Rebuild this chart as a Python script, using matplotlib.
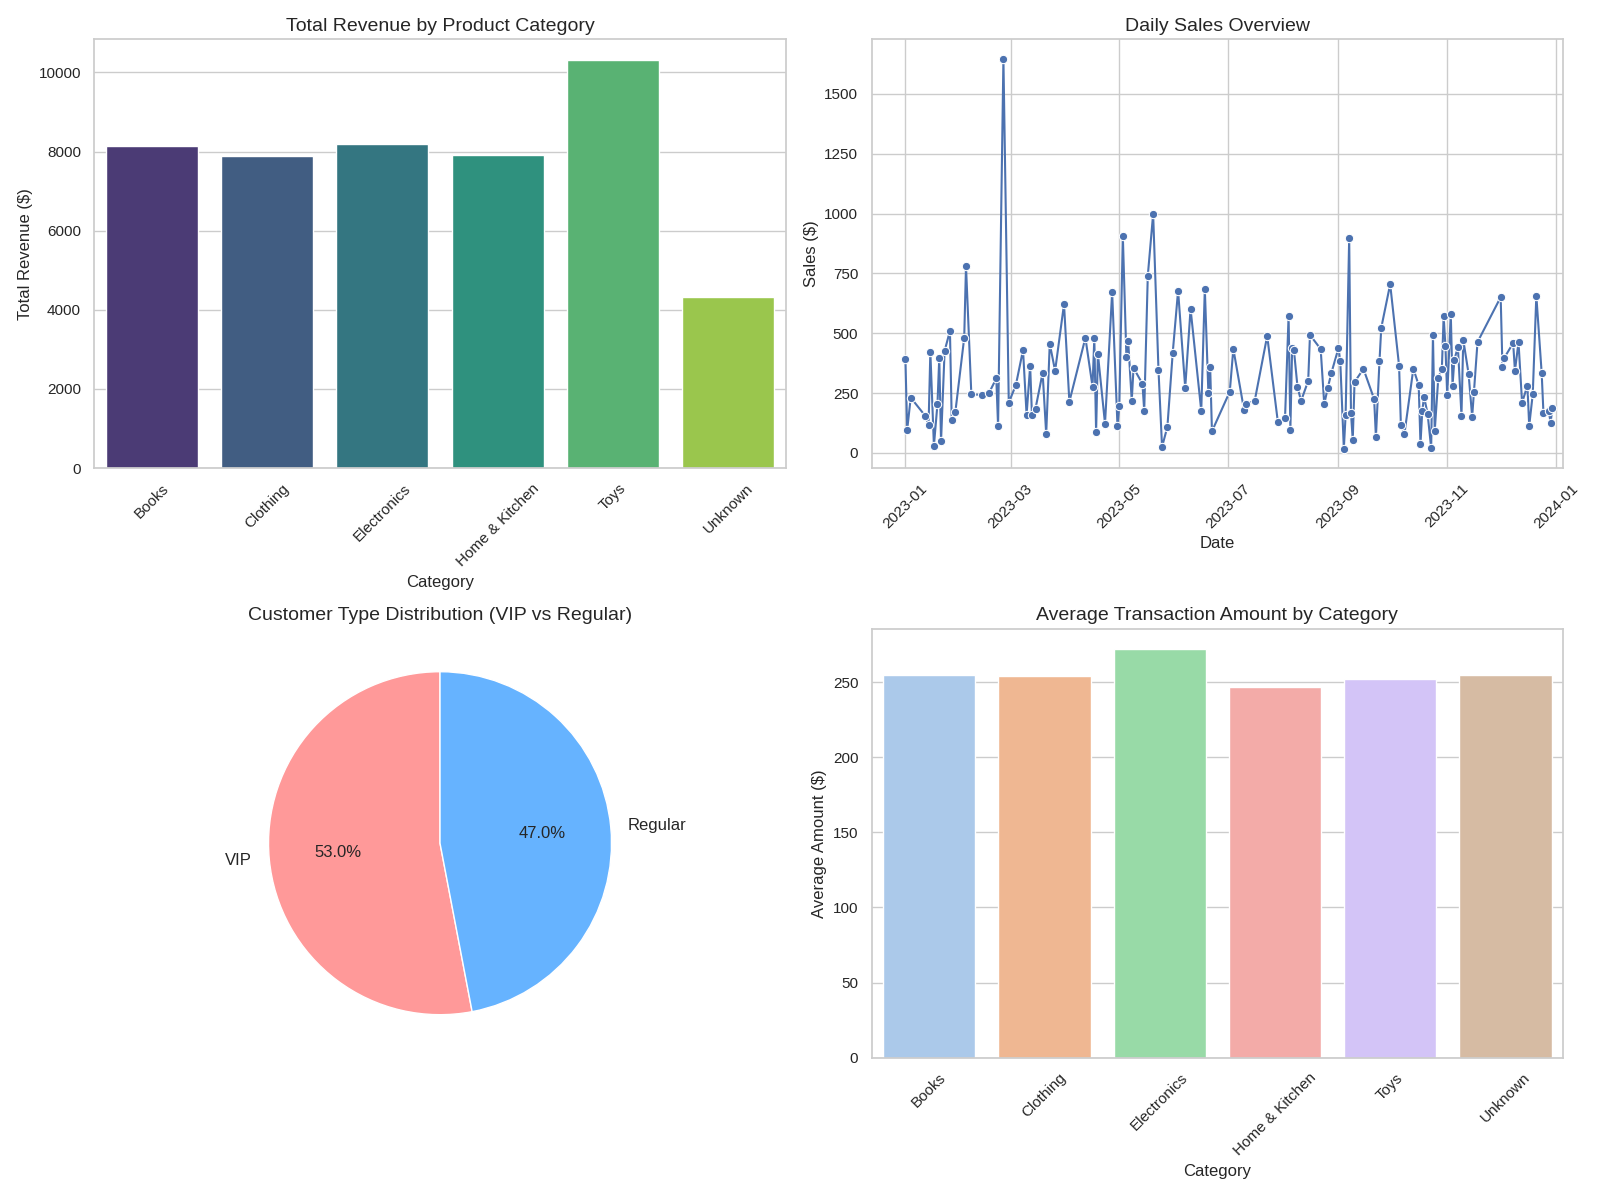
import numpy as np
import pandas as pd
import matplotlib
matplotlib.use('Agg')
import matplotlib.pyplot as plt  # noqa
import seaborn as sns  # noqa
from matplotlib.ticker import MultipleLocator  # noqa

categories = ['Books', 'Clothing', 'Electronics', 'Home & Kitchen', 'Toys', 'Unknown']
revenue = [8150, 7880, 8180, 7900, 10320, 4330]
avg_amount = [255, 254, 272, 247, 252, 255]

customer_types = ['VIP', 'Regular']
customer_share = [53.0, 47.0]

# days since 2023-01-01 and daily sales
sale_days = [0, 1, 3, 11, 13, 14, 16, 18, 19, 20, 22, 25, 26, 28, 33, 34, 37, 43,
             47, 51, 52, 55, 58, 62, 66, 68, 70, 71, 73, 77, 79, 81, 84, 89, 92,
             101, 105, 106, 107, 108, 112, 116, 119, 120, 122, 124, 125, 127, 128,
             133, 134, 136, 139, 142, 144, 147, 150, 153, 157, 160, 166, 168, 170,
             171, 172, 182, 184, 190, 191, 196, 203, 209, 213, 215, 216, 217, 218,
             220, 222, 226, 227, 233, 235, 237, 239, 243, 244, 246, 247, 249, 250,
             251, 252, 257, 263, 264, 266, 267, 272, 277, 278, 280, 285, 288, 289,
             290, 291, 293, 295, 296, 297, 299, 301, 302, 303, 304, 306, 307, 308,
             310, 312, 313, 316, 318, 319, 321, 334, 335, 336, 341, 342, 344, 346,
             349, 350, 352, 354, 357, 358, 361, 362, 363]
sale_values = [394, 97, 231, 156, 118, 422, 30, 205, 398, 48, 426, 510, 136, 169,
               481, 781, 245, 242, 252, 311, 113, 1647, 210, 284, 430, 159, 364,
               159, 185, 335, 79, 456, 343, 622, 214, 481, 277, 481, 87, 414, 122,
               671, 113, 194, 907, 401, 467, 218, 355, 289, 176, 740, 999, 347, 25,
               109, 419, 678, 272, 602, 176, 686, 251, 359, 90, 256, 435, 180, 204,
               218, 489, 128, 145, 572, 97, 440, 429, 276, 217, 301, 493, 434, 204,
               272, 334, 438, 383, 18, 159, 899, 167, 54, 296, 351, 225, 66, 383,
               523, 705, 364, 117, 80, 352, 283, 37, 175, 235, 163, 20, 493, 92,
               314, 352, 572, 445, 240, 582, 281, 390, 442, 156, 473, 330, 151, 254,
               463, 651, 357, 397, 459, 343, 463, 210, 281, 113, 246, 657, 334, 166,
               175, 126, 186]

sns.set_theme(style='whitegrid')
plt.rcParams['font.family'] = ['Liberation Sans', 'DejaVu Sans']
fig, axes = plt.subplots(2, 2, figsize=(16, 11.97))

# revenue by category
ax = axes[0, 0]
sns.barplot(x=categories, y=revenue, hue=categories, palette='viridis',
            legend=False, ax=ax)
ax.set_title('Total Revenue by Product Category', fontsize=14)
ax.set_xlabel('Category', fontsize=12)
ax.set_ylabel('Total Revenue ($)', fontsize=12)
ax.tick_params(axis='x', rotation=45)

# daily sales
ax = axes[0, 1]
dates = pd.Timestamp('2023-01-01') + pd.to_timedelta(sale_days, unit='D')
sns.lineplot(x=dates, y=sale_values, marker='o', ax=ax)
ax.set_title('Daily Sales Overview', fontsize=14)
ax.set_xlabel('Date', fontsize=12)
ax.set_ylabel('Sales ($)', fontsize=12)
ax.yaxis.set_major_locator(MultipleLocator(250))
ax.set_xlim(pd.Timestamp('2022-12-13'), pd.Timestamp('2024-01-05'))
ax.tick_params(axis='x', rotation=45)

# customer types
ax = axes[1, 0]
ax.pie(customer_share, labels=customer_types, autopct='%1.1f%%',
       colors=['#ff9999', '#66b3ff'], startangle=90,
       textprops={'fontsize': 12})
ax.set_title('Customer Type Distribution (VIP vs Regular)', fontsize=14)

# average transaction
ax = axes[1, 1]
sns.barplot(x=categories, y=avg_amount, hue=categories, palette='pastel',
            legend=False, ax=ax)
ax.set_title('Average Transaction Amount by Category', fontsize=14)
ax.set_xlabel('Category', fontsize=12)
ax.set_ylabel('Average Amount ($)', fontsize=12)
ax.tick_params(axis='x', rotation=45)

plt.tight_layout()
plt.savefig('out.png', dpi=100)
